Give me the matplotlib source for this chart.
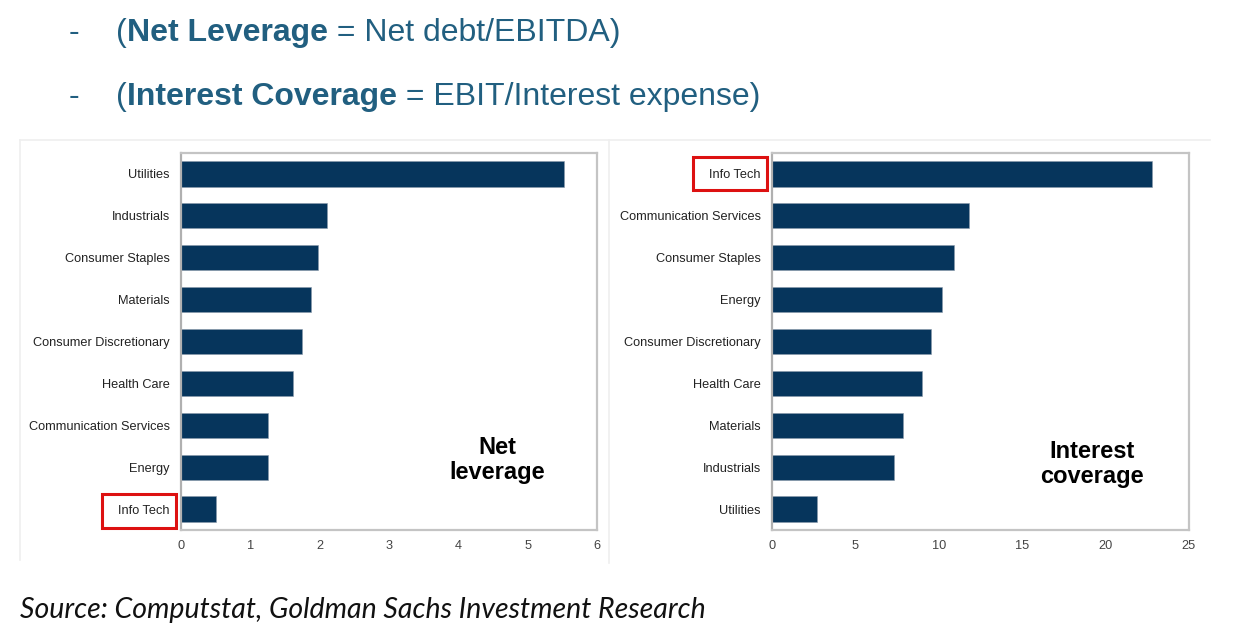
import matplotlib.pyplot as plt
from matplotlib.lines import Line2D
from matplotlib.patches import Rectangle

# data, top bar first
lev_sectors = ["Utilities", "Industrials", "Consumer Staples", "Materials",
               "Consumer Discretionary", "Health Care", "Communication Services",
               "Energy", "Info Tech"]
lev_values = [5.52, 2.10, 1.97, 1.88, 1.75, 1.62, 1.25, 1.25, 0.50]

cov_sectors = ["Info Tech", "Communication Services", "Consumer Staples", "Energy",
               "Consumer Discretionary", "Health Care", "Materials",
               "Industrials", "Utilities"]
cov_values = [22.77, 11.79, 10.89, 10.18, 9.54, 8.98, 7.88, 7.33, 2.71]

lev_ticks = [0, 1, 2, 3, 4, 5, 6]
cov_ticks = [0, 5, 10, 15, 20, 25]

bar_color = "#06355c"
head_color = "#215f80"
plt.rcParams["font.family"] = ["Liberation Sans", "DejaVu Sans"]

fig = plt.figure(figsize=(12.47, 6.30), dpi=100)
W, H = 1247, 630


def px(x, y):
    return x / W, 1 - y / H


def panel(rect, sectors, values, ticks, label, lx, ly):
    ax = fig.add_axes(rect)
    pos = list(range(len(sectors)))
    ax.barh(pos, values, height=0.6, color=bar_color, edgecolor="#8a9aab", linewidth=0.4)
    ax.set_yticks(pos)
    ax.set_yticklabels(sectors, fontsize=9.2, color="#222222")
    ax.set_ylim(len(sectors) - 0.5, -0.5)
    ax.set_xlim(ticks[0], ticks[-1])
    ax.set_xticks(ticks)
    ax.set_xticklabels([str(t) for t in ticks], fontsize=9.2, color="#444444")
    ax.tick_params(axis="y", length=0, pad=8)
    ax.tick_params(axis="x", length=0, pad=7)
    for s in ax.spines.values():
        s.set_color("#c4c4c4")
        s.set_linewidth(1.6)
    ax.spines["left"].set_color("#b0b0b0")
    ax.text(lx, ly, label, transform=ax.transAxes, ha="center", va="center",
            fontsize=17, fontweight="bold", color="black", linespacing=1.08)
    return ax


panel([181 / W, 1 - 530 / H, 416 / W, 377 / H], lev_sectors, lev_values, lev_ticks,
      "Net\nleverage", (497 - 181) / 416, 1 - (459 - 152) / 377)
panel([772 / W, 1 - 530 / H, 417 / W, 377 / H], cov_sectors, cov_values, cov_ticks,
      "Interest\ncoverage", (1092 - 772) / 417, 1 - (463 - 152) / 377)

# faint panel frame
frame = "#efefef"
for (x0, y0), (x1, y1) in [((20, 140), (1210, 140)), ((609, 140), (609, 563)),
                           ((20, 140), (20, 560))]:
    a, b = px(x0, y0)
    c, d = px(x1, y1)
    fig.add_artist(Line2D([a, c], [b, d], color=frame, linewidth=1.2))

# red highlight boxes around Info Tech
for (x0, y0, x1, y1) in [(102, 494, 176, 528), (693, 157, 767, 190)]:
    a, b = px(x0, y1)
    fig.add_artist(Rectangle((a, b), (x1 - x0) / W, (y1 - y0) / H,
                             transform=fig.transFigure, fill=False,
                             edgecolor="#dd1111", linewidth=2.2))

# header lines
for y, bold, rest in [(33, "Net Leverage", " = Net debt/EBITDA)"),
                      (97, "Interest Coverage", " = EBIT/Interest expense)")]:
    fig.text(*px(69, y), "-", fontsize=23, color=head_color, va="center")
    t = fig.text(*px(116, y), "(", fontsize=23, color=head_color, va="center")
    fig.canvas.draw()
    r = fig.canvas.get_renderer()
    x = t.get_window_extent(r).x1
    t2 = fig.text(x / W, 1 - y / H, bold, fontsize=23, color=head_color,
                  va="center", fontweight="bold")
    x = t2.get_window_extent(r).x1
    fig.text(x / W, 1 - y / H, rest, fontsize=23, color=head_color, va="center")

fig.text(*px(20, 610), "Source: Computstat, Goldman Sachs Investment Research",
         fontsize=20.5, style="italic", family="Lato", color="#111111", va="center")

fig.savefig("out.png", dpi=100, facecolor="white")
